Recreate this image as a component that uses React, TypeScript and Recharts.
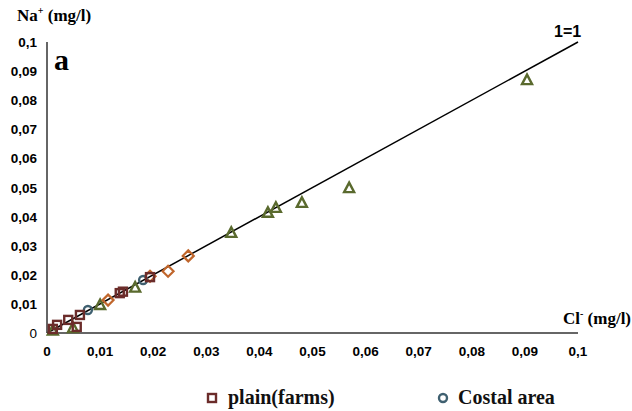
import React from "react";
import {
  ScatterChart,
  Scatter,
  XAxis,
  YAxis,
  ReferenceLine,
  Legend,
} from "recharts";

// Cl- (x) vs Na+ (y), mg/l
const plainFarms = [
  { x: 0.0011, y: 0.0014 },
  { x: 0.0019, y: 0.0028 },
  { x: 0.004, y: 0.0045 },
  { x: 0.0056, y: 0.0021 },
  { x: 0.0062, y: 0.0062 },
  { x: 0.0137, y: 0.0137 },
  { x: 0.0143, y: 0.0142 },
  { x: 0.0194, y: 0.0192 },
];
const costalArea = [
  { x: 0.0077, y: 0.0079 },
  { x: 0.0181, y: 0.0182 },
];
const otherA = [
  { x: 0.0115, y: 0.0113 },
  { x: 0.0194, y: 0.0195 },
  { x: 0.0228, y: 0.0212 },
  { x: 0.0266, y: 0.0265 },
];
const otherB = [
  { x: 0.0011, y: 0.0008 },
  { x: 0.0049, y: 0.0017 },
  { x: 0.01, y: 0.0096 },
  { x: 0.0166, y: 0.0156 },
  { x: 0.0347, y: 0.0344 },
  { x: 0.0416, y: 0.0413 },
  { x: 0.0431, y: 0.043 },
  { x: 0.048, y: 0.0447 },
  { x: 0.0569, y: 0.0498 },
  { x: 0.0904, y: 0.0869 },
];
const ticks = [0, 0.01, 0.02, 0.03, 0.04, 0.05, 0.06, 0.07, 0.08, 0.09, 0.1];

const C_SQ = "#6b2c2a";
const C_CI = "#3f6070";
const C_DI = "#c0662c";
const C_TR = "#5a6a2e";

const fmt = (v: number) => (v === 0 ? "0" : String(+v.toFixed(2)).replace(".", ","));

const squareShape = (p: any) => (
  <rect x={p.cx - 4} y={p.cy - 4} width={8} height={8} fill="none" stroke={C_SQ} strokeWidth={2.4} />
);
const circleShape = (p: any) => (
  <circle cx={p.cx} cy={p.cy} r={4} fill="none" stroke={C_CI} strokeWidth={2.4} />
);
const diamondShape = (p: any) => (
  <path
    d={`M${p.cx},${p.cy - 5.5}L${p.cx + 5.5},${p.cy}L${p.cx},${p.cy + 5.5}L${p.cx - 5.5},${p.cy}Z`}
    fill="none"
    stroke={C_DI}
    strokeWidth={2.2}
  />
);
const triangleShape = (p: any) => (
  <path
    d={`M${p.cx},${p.cy - 5.5}L${p.cx + 5},${p.cy + 4}L${p.cx - 5},${p.cy + 4}Z`}
    fill="none"
    stroke={C_TR}
    strokeWidth={2.4}
  />
);

const serif = "'Liberation Serif', 'Times New Roman', serif";
const sans = "'Liberation Sans', Arial, sans-serif";

const YTick = (p: any) => (
  <text
    x={p.x}
    y={p.y}
    dy={5}
    textAnchor="end"
    fontFamily={sans}
    fontSize={13.5}
    fontWeight={p.payload.value === 0 ? 400 : 700}
    fill="#000"
  >
    {fmt(p.payload.value)}
  </text>
);

const renderLegend = () => (
  <div
    style={{
      position: "relative",
      height: 24,
      width: 632,
      fontFamily: serif,
      fontWeight: 700,
      fontSize: 20,
      color: "#111",
    }}
  >
    <span style={{ position: "absolute", left: 205, top: 0, display: "flex", alignItems: "center" }}>
      <svg width={16} height={14}>
        <rect x={3} y={3} width={8} height={8} fill="none" stroke={C_SQ} strokeWidth={2.4} />
      </svg>
      <span style={{ marginLeft: 7 }}>plain(farms)</span>
    </span>
    <span style={{ position: "absolute", left: 436, top: 0, display: "flex", alignItems: "center" }}>
      <svg width={16} height={14}>
        <circle cx={7} cy={7} r={4} fill="none" stroke={C_CI} strokeWidth={2.4} />
      </svg>
      <span style={{ marginLeft: 6 }}>Costal area</span>
    </span>
  </div>
);

export default function App() {
  return (
    <div style={{ position: "absolute", left: 0, top: 0, width: 632, height: 411, background: "#fff" }}>
      <ScatterChart width={632} height={411} margin={{ top: 42, right: 54, bottom: 1, left: 0 }}>
        <XAxis
          type="number"
          dataKey="x"
          domain={[0, 0.1]}
          ticks={ticks}
          tickFormatter={fmt}
          tickLine={false}
          tickSize={0}
          tickMargin={13}
          height={53}
          axisLine={{ stroke: "#333", strokeWidth: 1.5 }}
          tick={{ fontFamily: sans, fontSize: 13.5, fontWeight: 700, fill: "#000" }}
          label={{
            content: () => (
              <text x={563} y={324} fontFamily={serif} fontWeight={700} fontSize={17} fill="#000">
                Cl
                <tspan dy={-7} fontSize={10}>-</tspan>
                <tspan dy={7}> (mg/l)</tspan>
              </text>
            ),
          }}
        />
        <YAxis
          type="number"
          dataKey="y"
          domain={[0, 0.1]}
          ticks={ticks}
          tickLine={false}
          tickSize={0}
          tickMargin={10}
          width={47}
          axisLine={{ stroke: "#333", strokeWidth: 1.5 }}
          tick={<YTick />}
          label={{
            content: () => (
              <g>
                <text x={17} y={21} fontFamily={serif} fontWeight={700} fontSize={17} fill="#000">
                  Na
                  <tspan dy={-7} fontSize={10}>+</tspan>
                  <tspan dy={7}> (mg/l)</tspan>
                </text>
                <text x={54} y={70} fontFamily={serif} fontWeight={700} fontSize={30} fill="#000">
                  a
                </text>
              </g>
            ),
          }}
        />
        <ReferenceLine
          segment={[
            { x: 0, y: 0 },
            { x: 0.1, y: 0.1 },
          ]}
          stroke="#000"
          strokeWidth={1.5}
          ifOverflow="visible"
          label={{
            value: "1=1",
            position: "end",
            content: () => (
              <text x={554} y={37} fontFamily={sans} fontWeight={700} fontSize={16} fill="#000">
                1=1
              </text>
            ),
          }}
        />
        <Scatter name="otherB" data={otherB} shape={triangleShape} isAnimationActive={false} />
        <Scatter name="otherA" data={otherA} shape={diamondShape} isAnimationActive={false} />
        <Scatter name="Costal area" data={costalArea} shape={circleShape} isAnimationActive={false} />
        <Scatter name="plain(farms)" data={plainFarms} shape={squareShape} isAnimationActive={false} />
        <Legend
          verticalAlign="bottom"
          height={24}
          content={renderLegend}
          wrapperStyle={{ left: 0, width: 632 }}
        />
      </ScatterChart>
    </div>
  );
}
